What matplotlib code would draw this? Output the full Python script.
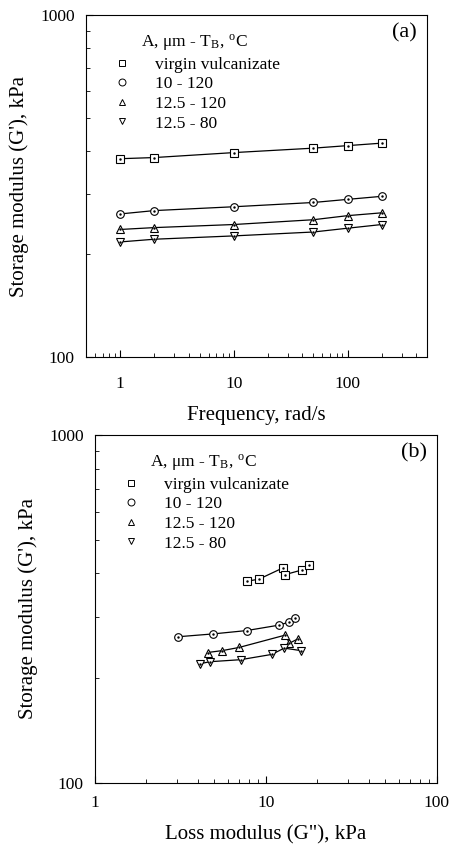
import matplotlib
matplotlib.use("Agg")
import matplotlib.pyplot as plt
from matplotlib.lines import Line2D
from matplotlib.ticker import LogLocator, NullFormatter, FixedLocator, FixedFormatter

plt.rcParams['font.family'] = ['Liberation Serif', 'DejaVu Serif']
plt.rcParams['mathtext.fontset'] = 'stix'

# series labels
labels = ['virgin vulcanizate', '10 - 120', '12.5 - 120', '12.5 - 80']
markers = ['s', 'o', '^', 'v']

# (a) storage modulus vs frequency
freq = [1, 2, 10, 50, 100, 200]
g1_virgin = [380, 383, 396, 408, 415, 422]
g1_10_120 = [262, 268, 275, 283, 289, 295]
g1_125_120 = [236, 239, 244, 252, 259, 264]
g1_125_80 = [217, 221, 226, 232, 238, 244]

# (b) storage modulus vs loss modulus
g2_virgin = [7.8, 9.1, 12.6, 13.0, 16.2, 17.8]
g1b_virgin = [380, 385, 415, 397, 409, 422]
g2_10_120 = [3.05, 4.9, 7.7, 11.9, 13.7, 14.7]
g1b_10_120 = [263, 268, 274, 284, 290, 297]
g2_125_120 = [4.56, 5.55, 6.95, 13.0, 13.7, 15.3]
g1b_125_120 = [237, 240, 245, 266, 252, 259]
g2_125_80 = [4.11, 4.7, 7.1, 10.8, 12.8, 16.0]
g1b_125_80 = [220, 223, 226, 234, 244, 240]

fig = plt.figure(figsize=(4.5, 8.47), dpi=100)
ax1 = fig.add_axes([0.191, 0.5785, 0.758, 0.4038])
ax2 = fig.add_axes([0.211, 0.0756, 0.760, 0.411])

title = r'A, $\mathregular{\mu}$m - T$_\mathregular{B}$, $^\mathregular{o}$C'


def draw(ax, xs, ys):
    for x, y, m in zip(xs, ys, markers):
        ax.plot(x, y, '-', color='black', lw=0.9, zorder=2)
        ax.plot(x, y, m, ls='none', ms=5.5, mfc='white', mec='black', mew=0.8, zorder=3)
        ax.plot(x, y, '.', ls='none', ms=1.5, color='black', zorder=4)


def style(ax, xlim, xticks, xlabel, tag, xpad):
    ax.set_xscale('log')
    ax.set_yscale('log')
    ax.set_xlim(*xlim)
    ax.set_ylim(100, 1000)
    ax.xaxis.set_major_locator(FixedLocator(xticks))
    ax.xaxis.set_major_formatter(FixedFormatter([str(t) for t in xticks]))
    ax.xaxis.set_minor_locator(LogLocator(subs=range(2, 10)))
    ax.xaxis.set_minor_formatter(NullFormatter())
    ax.yaxis.set_major_locator(FixedLocator([100, 1000]))
    ax.yaxis.set_major_formatter(FixedFormatter(['100', '1000']))
    ax.yaxis.set_minor_locator(LogLocator(subs=range(2, 10)))
    ax.yaxis.set_minor_formatter(NullFormatter())
    ax.tick_params(which='both', direction='in', top=False, right=False, labelsize=12.5)
    ax.tick_params(axis='y', pad=8)
    ax.tick_params(axis='x', pad=xpad)
    ax.tick_params(which='major', length=5)
    ax.tick_params(which='minor', length=3)
    ax.set_xlabel(xlabel, fontsize=15, labelpad=10)
    ax.set_ylabel("Storage modulus (G'), kPa", fontsize=15, labelpad=8)
    ax.text(0.97, 0.975, tag, transform=ax.transAxes, ha='right', va='top', fontsize=16)
    handles = [Line2D([], [], marker=m, ls='none', ms=5, mfc='white', mec='black', mew=0.7)
               for m in markers]
    leg = ax.legend(handles, labels, title=title, loc='upper left',
                    bbox_to_anchor=(0.05, 0.98), frameon=False, fontsize=12.5,
                    title_fontsize=12.5, handlelength=1.0, handletextpad=1.4,
                    labelspacing=0.2, borderaxespad=0.2)
    leg._legend_box.align = 'left'
    leg.get_title().set_position((28, 0))


draw(ax1, [freq] * 4, [g1_virgin, g1_10_120, g1_125_120, g1_125_80])
style(ax1, (0.5, 500), [1, 10, 100], 'Frequency, rad/s', '(a)', 14)

draw(ax2, [g2_virgin, g2_10_120, g2_125_120, g2_125_80],
     [g1b_virgin, g1b_10_120, g1b_125_120, g1b_125_80])
style(ax2, (1, 100), [1, 10, 100], 'Loss modulus (G"), kPa', '(b)', 9)

fig.savefig('out.png', dpi=100)
